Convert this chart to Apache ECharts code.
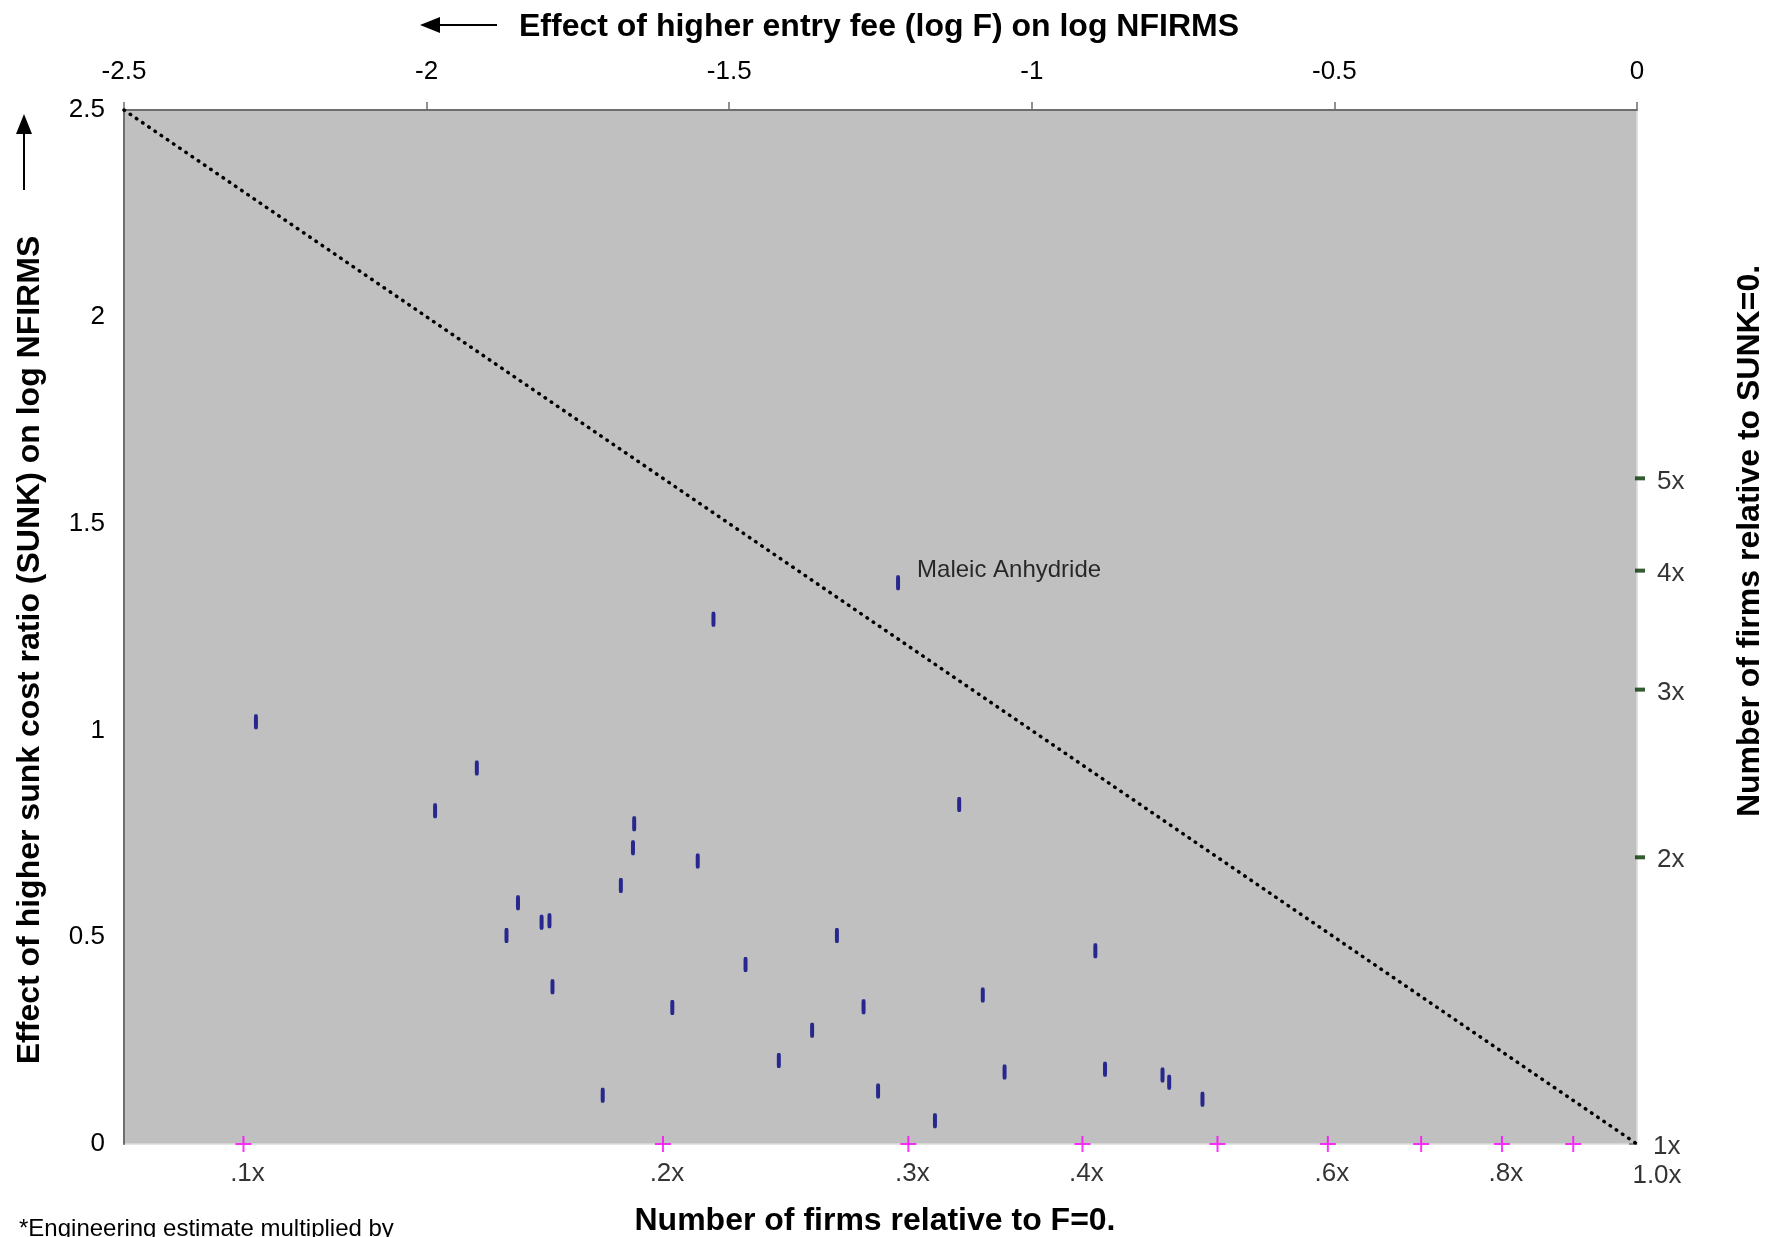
<!DOCTYPE html>
<html>
<head>
<meta charset="utf-8">
<script src="https://cdn.jsdelivr.net/npm/echarts@6/dist/echarts.min.js"></script>
<style>
  html, body { margin: 0; padding: 0; background: #ffffff; }
  #chart { width: 1769px; height: 1237px; }
</style>
</head>
<body>
<div id="chart"></div>
<script>
// ---- Data ----
// Effect of higher entry fee (log F) on log NFIRMS (x) and effect of higher sunk cost ratio (y)
const feeEffect  = [-2.282,-1.917,-1.986,-1.657,-1.659,-1.552,-1.679,-1.849,-1.810,-1.797,-1.868,-1.792,-1.594,-1.709,-1.526,-1.221,-1.120,-1.473,-1.322,-1.278,-1.363,-1.418,-1.254,-1.160,-1.081,-1.045,-0.895,-0.879,-0.784,-0.773,-0.718];
const sunkEffect = [ 1.021, 0.909, 0.806, 0.774, 0.716, 0.684, 0.625, 0.583, 0.536, 0.540, 0.504, 0.380, 0.330, 0.118, 1.269, 1.357, 0.821, 0.434, 0.504, 0.332, 0.275, 0.202, 0.128, 0.056, 0.360, 0.174, 0.467, 0.181, 0.167, 0.149, 0.108];
const pointNames = ['','','','','','','','','','','','','','','','Maleic Anhydride','','','','','','','','','','','','','','',''];

// Equal-effect reference line (from -2.5,2.5 to 0,0)
const diagX = [-2.5, 0];
const diagY = [2.5, 0];

// Multiplier scale along the bottom: number of firms relative to F=0
const bottomMults  = [0.1, 0.2, 0.3, 0.4, 0.5, 0.6, 0.7, 0.8, 0.9, 1.0];
const bottomLabels = ['.1x', '.2x', '.3x', '.4x', '', '.6x', '', '.8x', '', '1.0x'];

// Multiplier scale along the right: number of firms relative to SUNK=0
const rightMults  = [5, 4, 3, 2, 1];
const rightLabels = ['5x', '4x', '3x', '2x', '1x'];

// Axis ticks
const xTicks = { min: -2.5, max: 0, interval: 0.5 };
const yTicks = { min: 0, max: 2.5, interval: 0.5 };

const FONT = '"Liberation Sans", Arial, Helvetica, sans-serif';
const chart = echarts.init(document.getElementById('chart'), null, { renderer: 'canvas' });

const scatterData = feeEffect.map((x, i) => {
  const item = { value: [x, sunkEffect[i]] };
  if (pointNames[i]) {
    item.label = {
      show: true, formatter: pointNames[i], position: 'right', distance: 17, offset: [0, -12],
      fontFamily: FONT, fontSize: 24, color: '#000'
    };
  }
  return item;
});

const bottomData = bottomMults.map((m, i) => {
  const item = { value: [Math.log(m), 0], label: { formatter: bottomLabels[i] } };
  if (m === 1) {
    item.itemStyle = { color: 'rgba(0,0,0,0)' };
    item.label.offset = [20, 2];
  }
  return item;
});

const rightData = rightMults.map((m, i) => {
  const item = { value: [0, Math.log(m)], label: { formatter: rightLabels[i] } };
  if (m === 1) {
    item.itemStyle = { color: 'rgba(0,0,0,0)' };
    item.label.distance = 8;
  }
  return item;
});

const axisGray = '#6e6e6e';

const option = {
  backgroundColor: '#ffffff',
  animation: false,
  textStyle: { fontFamily: FONT },
  grid: {
    left: 124, right: 132, top: 110, bottom: 93,
    show: true, backgroundColor: '#c0c0c0', borderColor: '#dcdcdc', borderWidth: 1.5
  },
  xAxis: [{
    type: 'value', position: 'top',
    min: xTicks.min, max: xTicks.max, interval: xTicks.interval,
    axisLine: { show: true, onZero: false, lineStyle: { color: axisGray, width: 2 } },
    axisTick: { show: true, inside: false, length: 8, lineStyle: { color: axisGray, width: 1.5 } },
    axisLabel: { show: true, fontSize: 26, color: '#000', margin: 25, fontFamily: FONT },
    splitLine: { show: false }
  }],
  yAxis: [{
    type: 'value', position: 'left',
    min: yTicks.min, max: yTicks.max, interval: yTicks.interval,
    axisLine: { show: true, onZero: false, lineStyle: { color: axisGray, width: 2 } },
    axisTick: { show: false },
    axisLabel: { show: true, fontSize: 26, color: '#000', margin: 19, fontFamily: FONT },
    splitLine: { show: false }
  }, {
    type: 'value', position: 'left',
    min: yTicks.min, max: yTicks.max, interval: yTicks.max,
    axisLine: { show: false },
    axisTick: { show: true, length: 8, lineStyle: { color: axisGray, width: 1.5 } },
    axisLabel: { show: false },
    splitLine: { show: false }
  }],
  series: [{
    name: 'diagonal', type: 'line',
    data: diagX.map((x, i) => [x, diagY[i]]),
    symbol: 'none', clip: false, silent: true, z: 2,
    lineStyle: { color: '#000', width: 3.5, type: [0.5, 7], cap: 'round' }
  }, {
    name: 'firmsF', type: 'scatter',
    data: bottomData, clip: false, z: 3,
    symbol: 'path://M7,0H9V7H16V9H9V16H7V9H0V7H7Z', symbolSize: 16,
    itemStyle: { color: '#ff00ff' },
    label: { show: true, position: 'bottom', distance: 9, offset: [4, 0], fontSize: 26, color: '#000', fontFamily: FONT }
  }, {
    name: 'firmsSunk', type: 'scatter',
    data: rightData, clip: false, z: 3,
    symbol: 'rect', symbolSize: [10, 4], symbolOffset: [3, 0],
    itemStyle: { color: '#003300' },
    label: { show: true, position: 'right', distance: 12, offset: [0, 3], fontSize: 26, color: '#000', fontFamily: FONT }
  }, {
    name: 'industries', type: 'scatter',
    data: scatterData, clip: false, z: 4,
    symbol: 'roundRect', symbolSize: [4, 15],
    itemStyle: { color: '#000080' }
  }],
  graphic: [
    // top title and arrow
    { type: 'text', x: 879, y: 27, style: { text: 'Effect of higher entry fee (log F) on log NFIRMS', font: 'bold 32px ' + FONT, fill: '#000', align: 'center', verticalAlign: 'middle' } },
    { type: 'line', shape: { x1: 497, y1: 25, x2: 436, y2: 25 }, style: { stroke: '#000', lineWidth: 2 } },
    { type: 'polygon', shape: { points: [[420, 25], [440, 17], [440, 33]] }, style: { fill: '#000' } },
    // left title and arrow
    { type: 'text', x: 30, y: 650, rotation: Math.PI / 2, style: { text: 'Effect of higher sunk cost ratio (SUNK) on log NFIRMS', font: 'bold 32px ' + FONT, fill: '#000', align: 'center', verticalAlign: 'middle' } },
    { type: 'line', shape: { x1: 24, y1: 190, x2: 24, y2: 130 }, style: { stroke: '#000', lineWidth: 2 } },
    { type: 'polygon', shape: { points: [[24, 114], [16, 134], [32, 134]] }, style: { fill: '#000' } },
    // right title
    { type: 'text', x: 1750, y: 541, rotation: Math.PI / 2, style: { text: 'Number of firms relative to SUNK=0.', font: 'bold 32px ' + FONT, fill: '#000', align: 'center', verticalAlign: 'middle' } },
    // bottom title
    { type: 'text', x: 875, y: 1221, style: { text: 'Number of firms relative to F=0.', font: 'bold 32px ' + FONT, fill: '#000', align: 'center', verticalAlign: 'middle' } },
    // footnote
    { type: 'text', x: 19, y: 1217, style: { text: '*Engineering estimate multiplied by', font: '24px ' + FONT, fill: '#000', align: 'left', verticalAlign: 'top' } }
  ]
};

chart.setOption(option);
</script>
</body>
</html>
